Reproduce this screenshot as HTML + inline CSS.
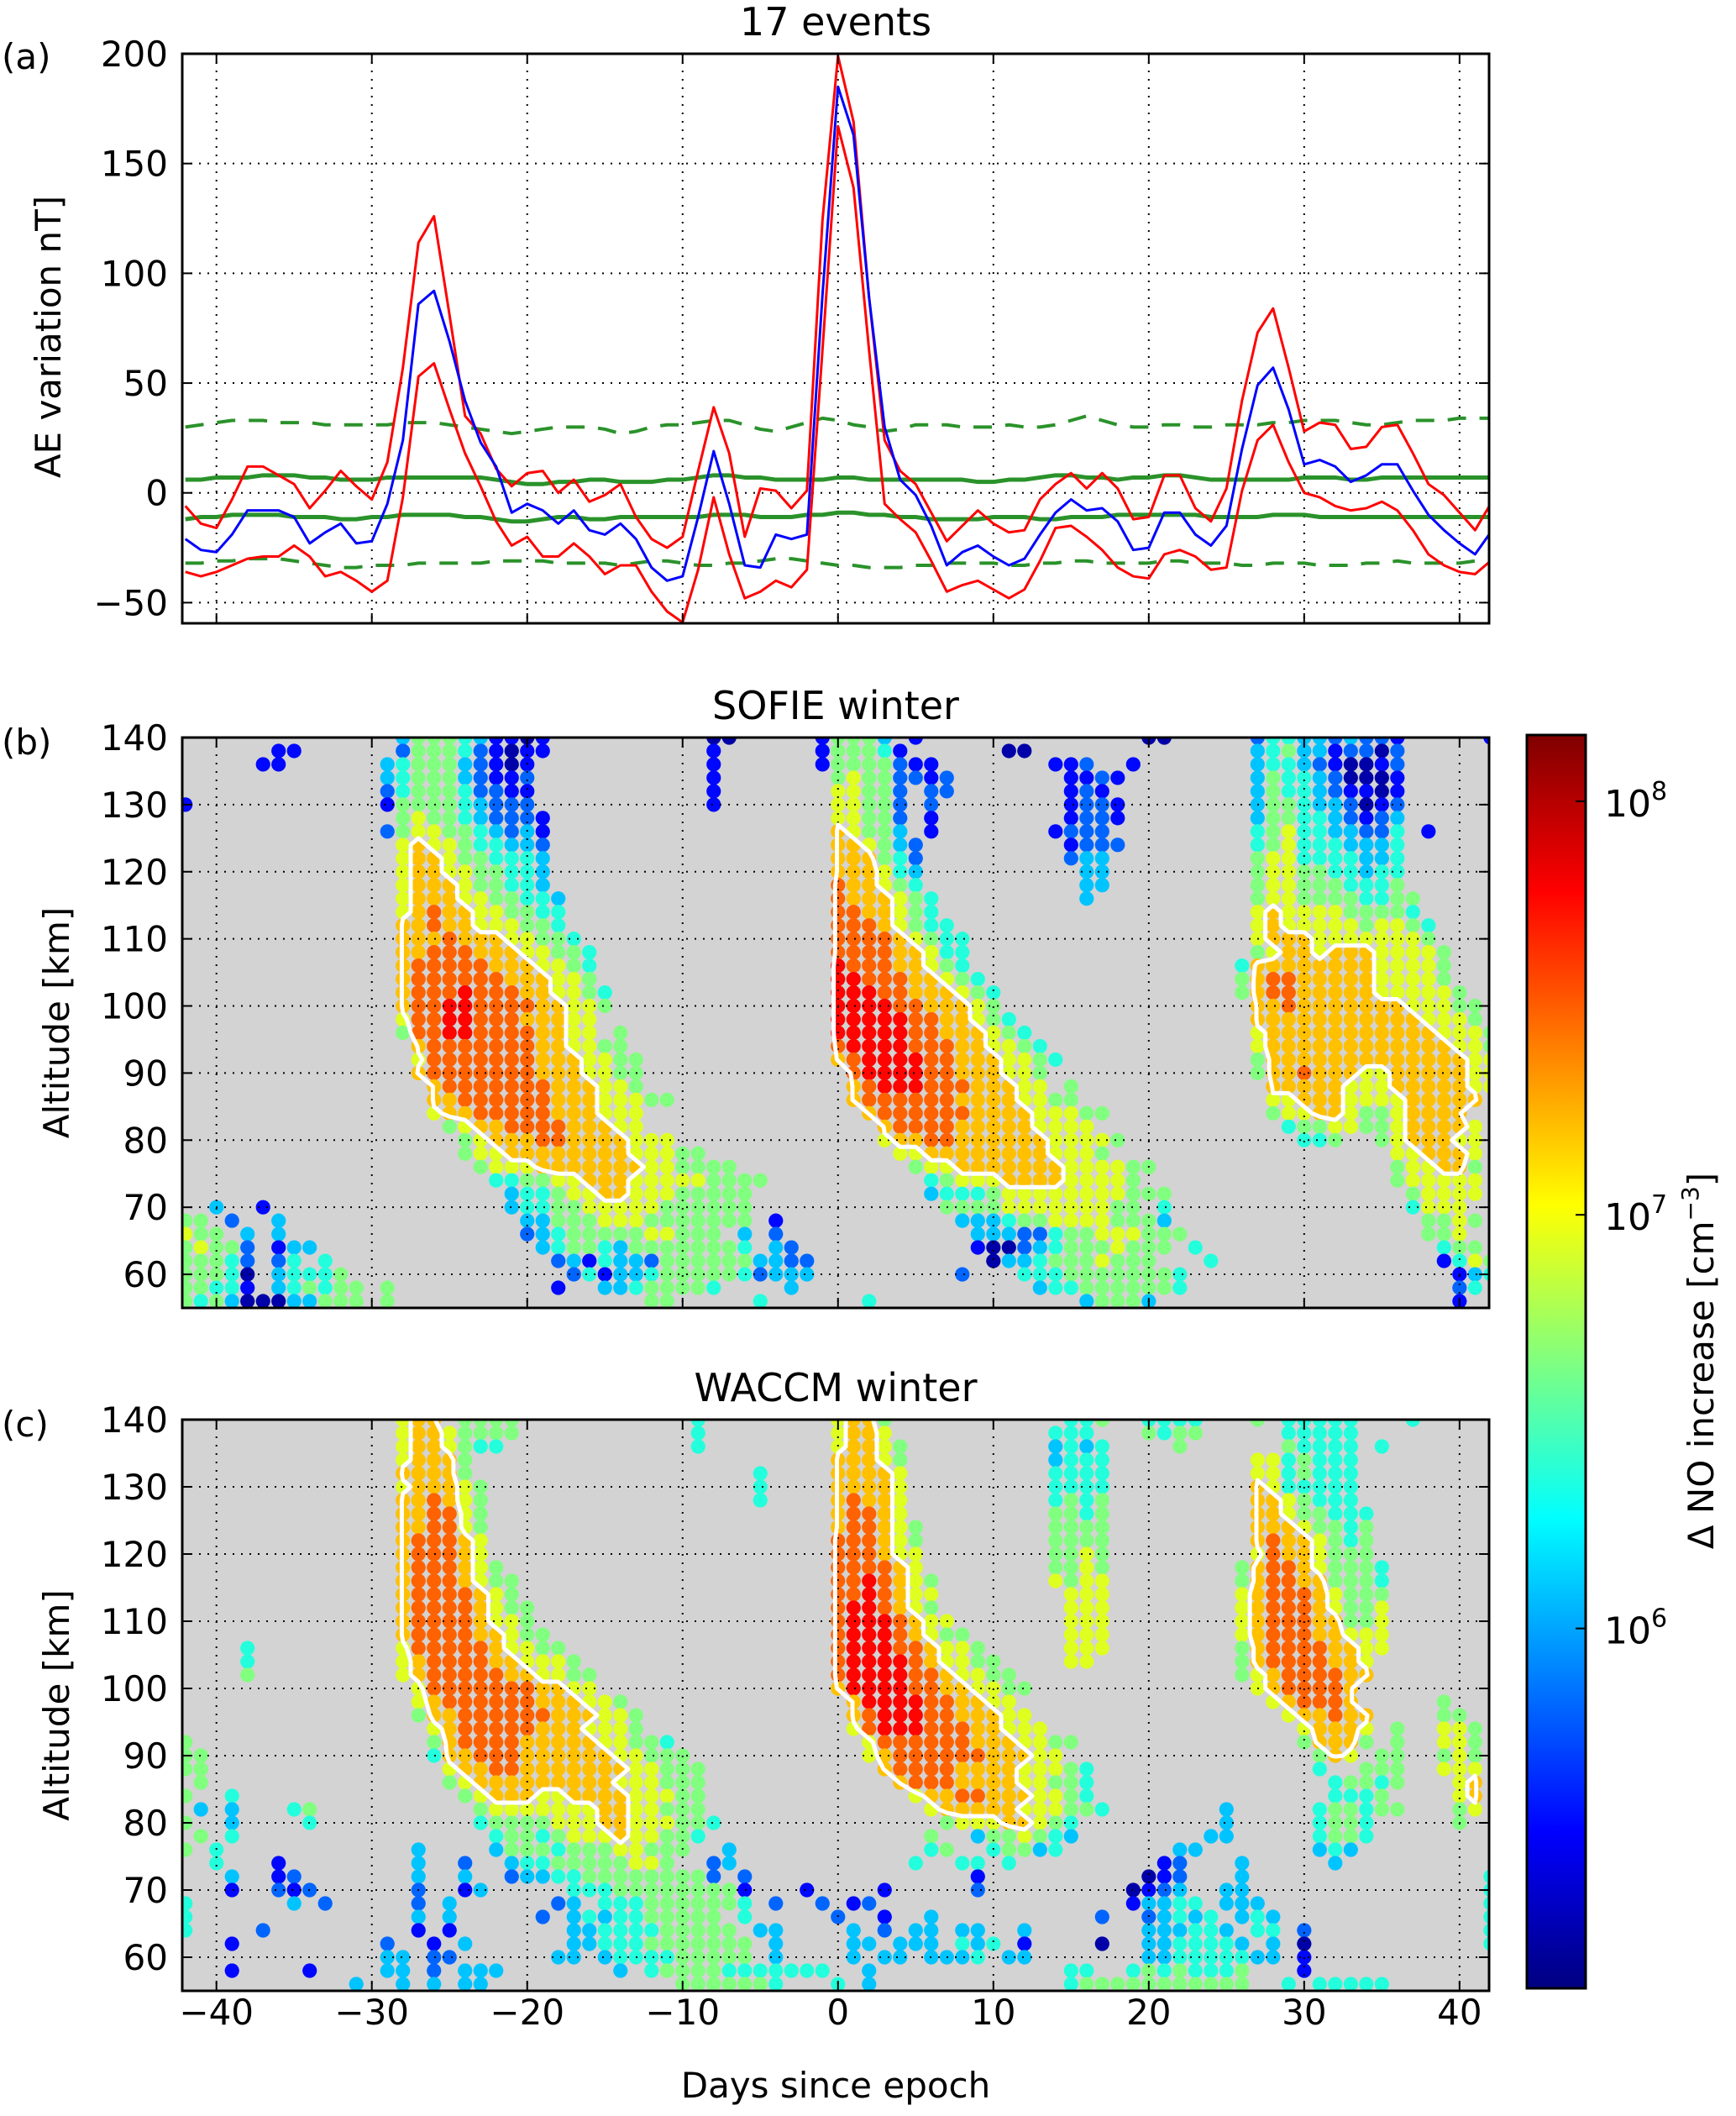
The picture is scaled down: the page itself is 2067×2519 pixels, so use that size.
<!DOCTYPE html>
<html><head><meta charset="utf-8"><style>
html,body{margin:0;padding:0;background:#fff;}
svg{display:block;font-family:"DejaVu Sans","Liberation Sans",sans-serif;}
</style></head><body>
<svg id="fig" xmlns="http://www.w3.org/2000/svg" width="2067" height="2519" viewBox="0 0 2067 2519">
<defs>
<clipPath id="clipA"><rect x="217" y="64" width="1556" height="678"/></clipPath>
<clipPath id="clipB"><rect x="217" y="878" width="1556" height="679"/></clipPath>
<clipPath id="clipC"><rect x="217" y="1690" width="1556" height="680"/></clipPath>
<linearGradient id="cbgrad" x1="0" y1="1" x2="0" y2="0"></linearGradient>
</defs>
<g id="layer"></g>
</svg>
<script>
// ---------- Panel (a) data ----------
const aeDays = [];
for (let d = -42; d <= 42; d++) aeDays.push(d);
const aeMean = [-21,-26,-27,-19,-8,-8,-8,-11,-23,-18,
 -14,-23,-22,-5,24,86,92,69,42,23,
 12,-9,-5,-8,-14,-8,-17,-19,-14,-21,
 -34,-40,-38,-11,19,-5,-33,-34,-19,-21,
 -19,90,185,163,89,30,6,-1,-15,-33,
 -27,-24,-29,-33,-30,-19,-9,-3,-8,-7,
 -13,-26,-25,-9,-9,-19,-24,-15,20,49,
 57,38,13,15,12,5,8,13,13,1,
 -10,-17,-23,-28,-18];
const aeUpper = [-6,-14,-16,-3,12,12,8,4,-7,1,
 10,3,-3,14,57,114,126,81,35,27,
 11,3,9,10,0,6,-4,-1,4,-11,
 -21,-25,-20,10,39,18,-20,2,1,-7,
 1,124,199,169,89,24,10,4,-9,-22,
 -15,-8,-14,-18,-17,-3,4,9,2,9,
 2,-12,-11,8,8,-7,-13,2,42,73,
 84,57,28,32,31,20,21,30,31,18,
 4,-1,-9,-17,-5];
const aeLower = [-36,-38,-36,-33,-30,-29,-29,-24,-29,-38,
 -36,-40,-45,-40,-2,53,59,38,18,3,
 -13,-24,-20,-29,-29,-23,-29,-37,-33,-33,
 -45,-54,-59,-35,-2,-28,-48,-45,-40,-43,
 -35,65,167,139,65,-5,-12,-18,-31,-45,
 -42,-40,-44,-48,-44,-31,-16,-15,-20,-26,
 -34,-38,-39,-28,-26,-29,-35,-34,1,24,
 31,14,0,-2,-6,-8,-7,-4,-8,-17,
 -28,-33,-36,-37,-31];
const sigUpper = [6,6,7,7,7,8,8,8,7,7, 6,6,6,7,7,7,7,7,7,7, 6,5,4,4,5,5,6,6,5,5, 5,6,6,7,8,8,7,7,6,6,
 6,6,7,7,6,6,6,6,6,6, 6,5,5,6,6,7,8,8,7,7, 6,7,7,8,8,7,6,6,6,6, 6,6,7,7,7,6,6,7,7,7, 7,7,7,7,7];
const sigLower = [-12,-11,-11,-10,-10,-10,-10,-11,-11,-11, -12,-12,-11,-11,-10,-10,-10,-10,-11,-11,
 -12,-13,-13,-12,-11,-11,-12,-12,-11,-11, -11,-11,-11,-11,-10,-10,-10,-11,-11,-11,
 -10,-10,-9,-9,-10,-10,-11,-11,-12,-12, -12,-12,-11,-11,-11,-12,-12,-11,-11,-11,
 -10,-10,-10,-10,-10,-10,-11,-11,-11,-11, -10,-10,-10,-11,-11,-11,-11,-11,-11,-11, -11,-11,-11,-11,-11];
const sig2Upper = [30,31,32,33,33,33,32,32,32,31, 31,31,31,31,32,32,32,31,30,29,
 28,27,28,29,30,30,30,29,27,28, 30,31,31,32,33,33,31,29,28,30,
 32,34,33,31,30,28,29,31,31,31, 30,30,30,31,30,30,31,33,35,33,
 31,30,30,31,31,30,30,31,31,31, 32,32,33,33,33,32,31,31,32,33, 33,33,34,34,34];
const sig2Lower = [-32,-32,-31,-31,-30,-30,-30,-31,-32,-33, -34,-34,-33,-33,-33,-32,-32,-32,-32,-32,
 -31,-31,-31,-31,-32,-32,-32,-32,-33,-32, -31,-31,-32,-33,-33,-32,-32,-31,-30,-30,
 -31,-32,-33,-33,-34,-34,-34,-33,-33,-32, -32,-32,-32,-33,-33,-32,-32,-31,-31,-32,
 -32,-32,-32,-31,-31,-32,-32,-32,-33,-33, -32,-32,-32,-33,-33,-33,-32,-32,-31,-32, -32,-32,-32,-31,-31];
const aeYTicks = [-50,0,50,100,150,200];
const xTicks = [-40,-30,-20,-10,0,10,20,30,40];
const altTicks = [60,70,80,90,100,110,120,130,140];
const cbTicks = [6,7,8];

// ---------- Panels (b),(c) data: rows from 140 km down to 56 km (2 km step) ----------
// "day:levels" segments; level digit d -> log10(dNO) = 5.25 + 0.28*d
const gridAlts = [];
for (let a = 140; a >= 56; a -= 2) gridAlts.push(a);
const sofieRows = [
"-28:3555431101 -8:00 -1:1 0:5553 5:1 20:00 27:2443323221 42:1",
"-36:11 -28:2555421011 -8:1 -1:1 0:55541 11:00 27:3453312202",
"-37:11 -29:3 -28:455532101 -8:1 -1:1 0:555521 6:1 14:112 19:1 27:3443210012",
"-29:3 -28:455532112 -8:1 0:5655221 7:2 15:1121 27:3544320001",
"-29:2 -28:455542211 -8:1 0:66552 6:22 15:121 27:3544321101",
"-42:1 -29:1 -28:555543222 -8:1 0:66552 6:2 15:122 18:1 27:3554332012",
"-28:5655432221 0:66552 6:1 15:1221 27:3554432123",
"-29:2 -28:5665543231 0:76553 6:1 14:1222 27:4564433224 38:1",
"-28:6766544332 0:77653 5:2 15:1222 27:4564443334",
"-28:6776554443 0:77754 5:2 15:233 27:5664444334",
"-28:6776655443 0:777643 16:33 27:5665544344",
"-28:6777655443 0:877654 16:33 27:5665554445",
"-28:67776655443 0:8777654 16:3 27:56655554455",
"-28:67877665544 0:8877654 27:67666655554",
"-28:77877666554 0:88876544 27:676666656654",
"-28:777877766554 0:888876544 27:677766666665",
"-28:7788877766554 0:888877644 27:5677677766665",
"-28:7888887776654 0:988877654 26:4 27:7777777766665",
"-28:7888888777665 0:9988877654 26:5 27:7887777766665",
"-28:78889888776654 0:99988777654 26:5 27:78877777666665",
"-28:78899888877665 0:99998877765 27:778777777766655",
"-28:6889988877766 0:999998877654 27:777777777776665",
"-28:5889988887766 -14:5 0:9999988777654 27:6777777777776665",
"-27:78888888776655 0:89999888776654 27:6777777777777665",
"-27:68888888777665 -13:5 0:789999887776654 27:5777777777777766",
"-27:788888887776655 1:8999988777665 27:5778777667777766",
"-26:78888888777665 1:7899988877766 15:5 28:777776667777766",
"-26:7788888877766655 1:788888877776655 28:66777666677777",
"-26:67788888777666 2:7888888777766655 28:5667765567777",
"-25:5677888877766 3:78888777776666 29:4556655677776",
"-24:56777887777666 3:6778877777766665 30:445 35:5677766",
"-24:5667777777766655 4:66777777776665 36:667776",
"-23:56667777777665555 5:5667777777666655 36:566775",
"-22:445566777666665555 6:45666777766665 36:566666",
"-21:3445667766655555 6:3444566666666555 37:56666",
"-40:3 -37:1 -21:3445566666555555 -10:5 7:5555666666655 21:4 37:4666",
"-42:55 -39:2 -36:3 -20:335556665555555 -4:1 8:33345566665553 38:5565",
"-42:655 -38:3 -36:3 -20:2345555566555 -6:3 -4:2 9:33322455666555 38:556",
"-42:5655 -38:2 -36:13 -34:3 -19:34554355555554 -4:32 9:1002345556555 23:4 39:455",
"-42:5554 -38:2 -36:24 -33:4 -18:23143325555555 -5:3322 10:03345556555 24:4 39:1465",
"-42:55545 -38:0 -36:3444 -32:5 -17:241334555554 -5:2333 8:2 12:44455555554 40:1345",
"-42:5544 -38:1 -36:3454 -32:55 -29:5 -18:1 -15:33455554 -3:3 13:3445555554 40:24",
"-42:5453 -38:0 -37:00 -35:33555 -29:5 -12:55 -5:4 2:4 16:35553 40:1"
];
const waccmRows = [
"-28:677 -24:5555 -9:4 0:6775 15:44 17:5 20:4444 27:5 29:44444 37:4",
"-28:6776 -24:5555 -9:4 0:6776 14:444 20:5455 29:44444",
"-28:67765 -23:44 -9:4 0:67765 14:3434 22:5 29:54444 35:4",
"-28:67775 0:77765 14:3444 27:66 29:45444",
"-28:77775 -5:4 0:77776 14:4444 27:66 29:45444",
"-28:677765 -5:4 0:77776 14:4444 27:76 29:44444",
"-28:778765 -5:4 0:78776 14:4545 27:776 30:5444",
"-28:778865 0:78876 14:5545 27:776 30:55444",
"-28:778865 0:788765 14:5555 27:7776 31:5545",
"-28:788876 0:888765 14:5555 27:7877 31:6545",
"-28:788876 0:888766 14:5565 27:6877 31:6555",
"-28:7888765 0:888876 14:5565 26:5 27:7887 31:65554",
"-28:78887655 0:8898765 14:6566 26:5 27:78877 32:5554",
"-28:78888765 0:8898766 15:666 26:6 27:78887 32:6555",
"-28:788887655 0:8998765 15:666 26:6 27:788876 33:556",
"-28:788887665 0:89998766 15:666 26:6 27:788877 33:556",
"-28:7888877655 0:899987655 15:666 26:6 27:7888776 34:66",
"-38:4 -28:68888876655 0:8999887665 15:666 26:5 27:78888776 35:6",
"-38:4 -28:678888776665 0:89999876655 15:66 26:5 27:78888776",
"-38:5 -28:6788888776655 0:899998876655 26:5 27:67888877",
"-27:688888887766 0:7999988776655 27:6788887",
"-27:67888888777665 1:79999887766 28:678887 39:5",
"-27:577888888777665 1:789998877766 29:677877 39:55",
"-26:67888887776665 1:6899988877666 30:67776 36:5 39:665",
"-42:5 -26:5788887777766554 2:68888887776655 30:57775 36:5 39:665",
"-42:55 -26:47788877777766555 2:6788888877766 31:576 35:55 39:565",
"-42:55 -25:67788777777766555 3:78888777766654 16:4 31:4 34:555 39:666",
"-41:5 -25:56777777777666555 4:7888777766554 32:45545 40:67",
"-42:5 -39:4 -24:5677766777766655 5:677887776654 32:4445 40:67",
"-41:3 -39:3 -35:45 -23:566666667766555 6:677777666554 25:3 31:455455 40:56",
"-42:5 -39:3 -34:4 -23:4555566677666554 7:566677654 25:3 31:4554 40:5",
"-41:5 -39:4 -22:45545666766554 6:5 9:3556543 24:33 31:4554",
"-42:5 -40:4 -27:3 -22:3555455566555 -7:3 6:45 10:45534 22:33 31:343",
"-40:4 -36:1 -27:3 -24:2 -21:34455555665 -8:23 5:4 8:44 11:4 21:12 26:3 32:3",
"-39:3 -36:12 -27:3 -24:3 -21:2334455555555 -8:2 -6:2 9:1 20:012 26:3 42:4",
"-39:1 -36:21 -34:2 -27:2 -24:13 -17:44455555555 -6:1 -2:1 3:1 9:2 19:0123 25:33 42:4",
"-42:4 -35:3 -33:2 -27:2 -25:3 -18:23 -15:4445555554 -4:2 -1:2 1:12 19:13344 25:333 42:4",
"-42:4 -27:3 -25:3 -19:2 -17:3434455555 -6:4 0:2 3:1 6:3 17:2 20:23434 26:343 42:4",
"-42:4 -37:2 -27:1 -25:1 -17:33444455555 -5:33 1:3 3:2 5:33 8:33 12:3 20:333443 27:44 30:2 42:4",
"-39:1 -29:2 -26:1 -24:3 -17:334445555555 -4:3 1:33 4:333 8:434 12:1 17:0 20:3344443 28:3 30:0 42:4",
"-29:33 -26:22 -18:33 -15:3444455555 -4:3 1:3 3:33 6:3334 11:33 20:334444433 30:1",
"-39:1 -34:1 -29:33 -26:2 -24:333 -14:3 -12:455554444 -3:444 2:3 15:44 19:45454445 30:1",
"-31:3 -28:3 -26:3 -24:33 -10:5555554 0:4 2:3 15:455555555555 29:4 31:44444"
];

// ---------- helpers ----------
const NS = "http://www.w3.org/2000/svg";
const layer = document.getElementById('layer');
function mk(tag, attrs, parent) {
  const e = document.createElementNS(NS, tag);
  for (const k in attrs) e.setAttribute(k, attrs[k]);
  (parent || layer).appendChild(e);
  return e;
}
const L = 217, R = 1773;
const X = d => L + (d + 42.2) / 84.1 * (R - L);
const Ya = v => 742 - (v + 59.4) / 259.4 * 678;
const mkAltY = (top, bot) => a => bot - (a - 55) / 85 * (bot - top);
const Yb = mkAltY(878, 1557), Yc = mkAltY(1690, 2370);
const CB_T = 875, CB_B = 2367;
const Ycb = lg => CB_B - (lg - 5.13) / (8.16 - 5.13) * (CB_B - CB_T);
function jet(t) {
  t = Math.max(0, Math.min(1, t));
  const c = x => Math.round(255 * Math.max(0, Math.min(1, x)));
  return `rgb(${c(1.5 - Math.abs(4 * t - 3))},${c(1.5 - Math.abs(4 * t - 2))},${c(1.5 - Math.abs(4 * t - 1))})`;
}
const lvlToLog = d => 5.25 + 0.28 * d;
const logToT = lg => (lg - 5.13) / (8.16 - 5.13);

function parseRows(rows) {
  const g = rows.map(() => new Array(85).fill(null));
  rows.forEach((r, i) => {
    r.trim().split(/\s+/).forEach(seg => {
      const p = seg.split(':'); const start = parseInt(p[0]);
      for (let k = 0; k < p[1].length; k++) {
        const ch = p[1][k]; const col = start + 42 + k;
        if (ch !== '.' && col >= 0 && col < 85) g[i][col] = parseInt(ch);
      }
    });
  });
  return g;
}

function gridLines(g, top, bot, yf, yt) {
  xTicks.forEach(t => mk('line', {x1: X(t), x2: X(t), y1: top, y2: bot, stroke: '#000', 'stroke-width': 2, 'stroke-dasharray': '2 8'}, g));
  yt.forEach(t => mk('line', {x1: L, x2: R, y1: yf(t), y2: yf(t), stroke: '#000', 'stroke-width': 2, 'stroke-dasharray': '2 8'}, g));
}
function axesFrame(top, bot, yf, yt, name, showX) {
  const g = mk('g', {});
  
  
  mk('rect', {x: L, y: top, width: R - L, height: bot - top, fill: 'none', stroke: '#000', 'stroke-width': 3}, g);
  xTicks.forEach(t => {
    mk('line', {x1: X(t), x2: X(t), y1: bot, y2: bot - 12, stroke: '#000', 'stroke-width': 2}, g);
    mk('line', {x1: X(t), x2: X(t), y1: top, y2: top + 12, stroke: '#000', 'stroke-width': 2}, g);
  });
  yt.forEach(t => {
    mk('line', {x1: L, x2: L + 12, y1: yf(t), y2: yf(t), stroke: '#000', 'stroke-width': 2}, g);
    mk('line', {x1: R, x2: R - 12, y1: yf(t), y2: yf(t), stroke: '#000', 'stroke-width': 2}, g);
    const tx = mk('text', {x: 200, y: yf(t) + 15, 'text-anchor': 'end', 'font-size': 42}, g);
    tx.textContent = String(t).replace('-', '\u2212');
    
    
  });
  if (showX) xTicks.forEach(t => {
    const tx = mk('text', {x: X(t), y: 2410, 'text-anchor': 'middle', 'font-size': 42}, g);
    tx.textContent = String(t).replace('-', '\u2212');
    
    
  });
}
function text(str, x, y, name, extra) {
  const t = mk('text', Object.assign({x: x, y: y, 'font-size': 42}, extra || {}));
  t.textContent = str;
  
  
  return t;
}

// ---------- Panel (a) ----------
{
  const g = mk('g', {'clip-path': 'url(#clipA)'});
  
  
  gridLines(g, 64, 742, Ya, aeYTicks);
  const line = (vals, color, w, dash, nm) => {
    const p = mk('polyline', {points: vals.map((v, i) => X(aeDays[i]) + ',' + Ya(v)).join(' '), fill: 'none', stroke: color, 'stroke-width': w, 'stroke-linejoin': 'round'}, g);
    if (dash) p.setAttribute('stroke-dasharray', dash);
    
    
  };
  line(sig2Upper, '#2a922a', 4, '22 16', 'significance-upper-dashed');
  line(sig2Lower, '#2a922a', 4, '22 16', 'significance-lower-dashed');
  line(sigUpper, '#2a922a', 5, null, 'significance-upper-solid');
  line(sigLower, '#2a922a', 5, null, 'significance-lower-solid');
  line(aeUpper, '#ff0000', 3, null, 'ae-upper-bound');
  line(aeLower, '#ff0000', 3, null, 'ae-lower-bound');
  line(aeMean, '#0000ff', 3, null, 'ae-mean');
  axesFrame(64, 742, Ya, aeYTicks, 'panel-a', false);
  text('17 events', 995, 42, 'panel-a-title', {'text-anchor': 'middle', 'font-size': 46});
  text('(a)', 2, 82, 'panel-a-label', {'font-size': 42});
  text('AE variation nT]', 72, 401, 'y-axis-title-ae', {'text-anchor': 'middle', transform: 'rotate(-90 72 401)'});
}

// ---------- Panels (b),(c) ----------
function contour(g, grid, yf, T) {
  const v = (r, c) => { const x = grid[r][c]; return x === null ? 0 : x; };
  let d = '';
  const nR = grid.length;
  for (let r = 0; r < nR - 1; r++) for (let c = 0; c < 84; c++) {
    const x0 = X(c - 42), x1 = X(c - 41), y0 = yf(gridAlts[r]), y1 = yf(gridAlts[r + 1]);
    const a = v(r, c), b = v(r, c + 1), cc = v(r + 1, c + 1), dd = v(r + 1, c);
    const pts = [];
    const it = (va, vb) => (T - va) / (vb - va);
    if ((a >= T) !== (b >= T)) pts.push([x0 + it(a, b) * (x1 - x0), y0]);
    if ((b >= T) !== (cc >= T)) pts.push([x1, y0 + it(b, cc) * (y1 - y0)]);
    if ((dd >= T) !== (cc >= T)) pts.push([x0 + it(dd, cc) * (x1 - x0), y1]);
    if ((a >= T) !== (dd >= T)) pts.push([x0, y0 + it(a, dd) * (y1 - y0)]);
    for (let k = 0; k + 1 < pts.length; k += 2) d += `M${pts[k][0].toFixed(1)},${pts[k][1].toFixed(1)}L${pts[k + 1][0].toFixed(1)},${pts[k + 1][1].toFixed(1)}`;
  }
  const p = mk('path', {d: d, fill: 'none', stroke: '#fff', 'stroke-width': 5, 'stroke-linecap': 'round'}, g);
  
  
}
function scatterPanel(rows, top, bot, yf, clip, name, title, label, showX) {
  const grid = parseRows(rows);
  mk('rect', {x: L, y: top, width: R - L, height: bot - top, fill: '#d3d3d3'});
  const g = mk('g', {'clip-path': clip});
  
  
  grid.forEach((row, r) => row.forEach((lv, c) => {
    if (lv === null) return;
    const dot = mk('circle', {cx: X(c - 42), cy: yf(gridAlts[r]), r: 8.6, fill: jet(logToT(lvlToLog(lv)))}, g);
    
    
  }));
  gridLines(g, top, bot, yf, altTicks);
  contour(g, grid, yf, 6.5);
  axesFrame(top, bot, yf, altTicks, name, showX);
  text(title, 995, top - 22, name + '-title', {'text-anchor': 'middle', 'font-size': 46});
  text(label, 2, top + 20, name + '-label');
  const cy = (top + bot) / 2;
  text('Altitude [km]', 82, cy, name + '-y-axis-title', {'text-anchor': 'middle', transform: `rotate(-90 82 ${cy})`});
}
scatterPanel(sofieRows, 878, 1557, Yb, 'url(#clipB)', 'sofie-panel', 'SOFIE winter', '(b)', false);
scatterPanel(waccmRows, 1690, 2370, Yc, 'url(#clipC)', 'waccm-panel', 'WACCM winter', '(c)', true);
text('Days since epoch', 995, 2497, 'x-axis-title', {'text-anchor': 'middle'});

// ---------- Colorbar ----------
{
  const grad = document.getElementById('cbgrad');
  for (let i = 0; i <= 40; i++) {
    const s = document.createElementNS(NS, 'stop');
    s.setAttribute('offset', i / 40);
    s.setAttribute('stop-color', jet(i / 40));
    grad.appendChild(s);
  }
  const g = mk('g', {});
  
  
  mk('rect', {x: 1818, y: CB_T, width: 70, height: CB_B - CB_T, fill: 'url(#cbgrad)', stroke: '#000', 'stroke-width': 3}, g);
  cbTicks.forEach(t => {
    mk('line', {x1: 1876, x2: 1888, y1: Ycb(t), y2: Ycb(t), stroke: '#000', 'stroke-width': 2}, g);
    const tx = mk('text', {x: 1910, y: Ycb(t) + 18, 'font-size': 44}, g);
    
    
    tx.appendChild(document.createTextNode('10'));
    const sup = document.createElementNS(NS, 'tspan');
    sup.setAttribute('dy', -20); sup.setAttribute('font-size', 30);
    sup.textContent = String(t);
    tx.appendChild(sup);
  });
  const cy = 1620;
  const lab = mk('text', {x: 2040, y: cy, 'text-anchor': 'middle', 'font-size': 42, transform: `rotate(-90 2040 ${cy})`}, g);
  
  
  lab.appendChild(document.createTextNode('\u0394 NO increase [cm'));
  const sp = document.createElementNS(NS, 'tspan');
  sp.setAttribute('dy', -18); sp.setAttribute('font-size', 28); sp.textContent = '\u22123';
  lab.appendChild(sp);
  const sp2 = document.createElementNS(NS, 'tspan');
  sp2.setAttribute('dy', 18); sp2.textContent = ']';
  lab.appendChild(sp2);
}
</script>
</body></html>
